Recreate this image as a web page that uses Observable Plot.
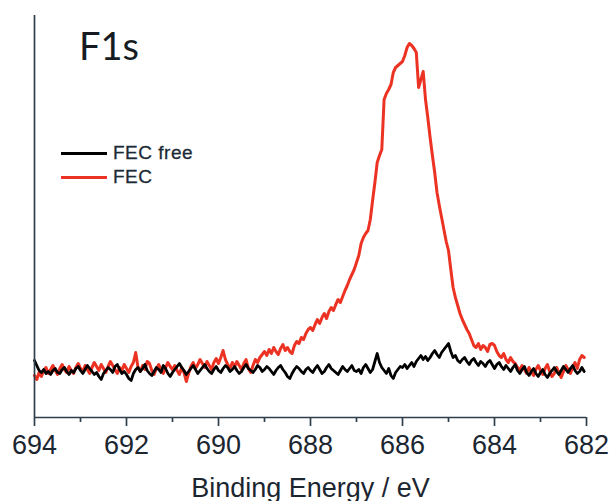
<!DOCTYPE html>
<html>
<head>
<meta charset="utf-8">
<script src="https://cdn.jsdelivr.net/npm/d3@7"></script>
<script src="https://cdn.jsdelivr.net/npm/@observablehq/plot@0.6"></script>
<style>
  html, body { margin: 0; padding: 0; background: #ffffff; }
  #wrap { position: relative; width: 611px; height: 501px; overflow: hidden; }
  #title { position: absolute; left: 79px; top: 26px; font-family: Lato, "Open Sans", sans-serif; font-size: 38px; line-height: 38px; color: #161c22; }
  .leg { position: absolute; left: 61px; height: 24px; display: flex; align-items: center; font-family: "Liberation Sans", Arial, sans-serif; font-size: 19px; letter-spacing: 0.5px; color: #1b2a35; -webkit-text-stroke: 0.3px #1b2a35; }
  .leg .sw { display: inline-block; width: 46px; height: 3px; margin-right: 6px; }
</style>
</head>
<body>
<div id="wrap">
  <div id="chart"></div>
  <div id="title">F1s</div>
  <div class="leg" style="top:141px"><span class="sw" style="background:#000"></span>FEC free</div>
  <div class="leg" style="top:165px"><span class="sw" style="background:#ec3323"></span>FEC</div>
</div>
<script>
// Binding energy grid (eV), instrument step
const energyStart = 694;
const energyStep = 0.05;

// Intensity (a.u.), FEC free sample
const fecFree = [
  57,52,47,45,48,44,46,43,47,49,45,44,48,50,46,43,47,45,49,51,
  47,44,48,52,49,46,43,45,41,38,44,47,50,48,45,51,53,48,44,46,
  43,39,37,44,48,50,46,49,53,47,44,42,46,50,48,45,52,49,44,41,
  45,48,51,54,50,47,43,46,49,52,48,44,47,50,53,49,46,44,48,51,
  47,45,49,52,50,46,48,51,47,44,46,50,53,49,47,45,48,52,50,46,
  48,51,49,46,43,47,50,52,48,45,41,39,44,48,51,49,46,44,48,50,
  47,45,49,52,48,44,46,50,53,49,47,45,43,47,51,48,46,49,52,47,
  46,48,44,50,53,49,45,48,56,64,55,50,47,44,49,42,39,45,48,51,
  50,53,49,52,55,51,56,59,62,58,61,57,60,64,67,63,60,65,68,71,
  74,66,60,62,57,55,58,60,56,53,57,59,55,52,56,54,51,55,57,53,
  49,53,55,51,48,52,49,46,50,53,47,44,48,51,45,42,46,49,44,41,
  45,48,43,40,44,47,50,46,43,47,51,48,45,49,52,47,44,46,50,46
];

// Intensity (a.u.), FEC sample
const fec = [
  42,38,45,41,47,50,44,48,52,47,43,49,53,48,45,51,47,44,50,54,
  49,46,52,48,44,50,55,51,47,53,49,45,51,56,52,48,44,50,47,53,
  49,45,51,55,65,50,46,52,48,56,54,47,43,49,53,48,44,50,55,51,
  48,52,47,43,50,45,36,44,51,55,49,53,58,54,50,56,52,48,55,59,
  54,60,67,58,53,49,55,51,56,52,48,54,58,49,45,52,58,55,60,63,
  66,62,68,64,70,66,63,69,73,67,70,66,64,72,76,74,80,78,84,88,
  90,87,93,98,94,100,104,99,106,110,107,113,118,115,121,127,132,138,143,148,
  155,162,174,180,184,187,198,217,235,255,262,268,318,324,328,333,345,350,352,354,
  356,362,370,374,372,369,365,330,338,346,318,300,280,262,245,225,212,200,188,176,
  167,148,130,120,112,104,98,93,88,84,78,72,70,74,68,72,70,66,73,74,
  72,66,62,60,64,58,55,60,56,54,50,47,52,48,44,50,46,42,48,52,
  47,43,49,53,46,41,44,50,45,40,46,52,48,44,50,55,49,58,62,60
];

const majorTicks = [694, 692, 690, 688, 686, 684, 682];
const minorTicks = [693, 691, 689, 687, 685, 683];
const xLabel = "Binding Energy / eV";

const energies = fecFree.map((_, i) => +(energyStart - i * energyStep).toFixed(2));
const freeData = energies.map((e, i) => ({e, v: fecFree[i]}));
const fecData = energies.map((e, i) => ({e, v: fec[i]}));

const axisColor = "#2e3f4b";
const textColor = "#1b2631";

const chart = Plot.plot({
  width: 611,
  height: 501,
  marginLeft: 34,
  marginRight: 25,
  marginTop: 15,
  marginBottom: 84,
  style: {background: "transparent", fontFamily: "'Liberation Sans', Arial, sans-serif", color: textColor},
  x: {domain: [694, 682]},
  y: {domain: [0, 402], axis: null},
  marks: [
    Plot.line(fecData, {x: "e", y: "v", stroke: "#ec3323", strokeWidth: 3, strokeLinejoin: "round"}),
    Plot.line(freeData, {x: "e", y: "v", stroke: "#000000", strokeWidth: 2.8, strokeLinejoin: "round"}),
    Plot.ruleX([694], {stroke: axisColor, strokeWidth: 1.7}),
    Plot.ruleY([0], {stroke: axisColor, strokeWidth: 1.7}),
    Plot.axisX({ticks: minorTicks, tickSize: 5, tickFormat: () => "", label: null, stroke: axisColor, strokeWidth: 1.7}),
    Plot.axisX({ticks: majorTicks, tickSize: 9, tickPadding: 8, tickFormat: d => String(d), label: null, fontSize: 27, fill: textColor, stroke: axisColor, strokeWidth: 1.7}),
    Plot.text([xLabel], {frameAnchor: "bottom", dy: 79, text: d => d, fontSize: 27, fill: textColor})
  ]
});
document.getElementById("chart").appendChild(chart);
</script>
</body>
</html>
